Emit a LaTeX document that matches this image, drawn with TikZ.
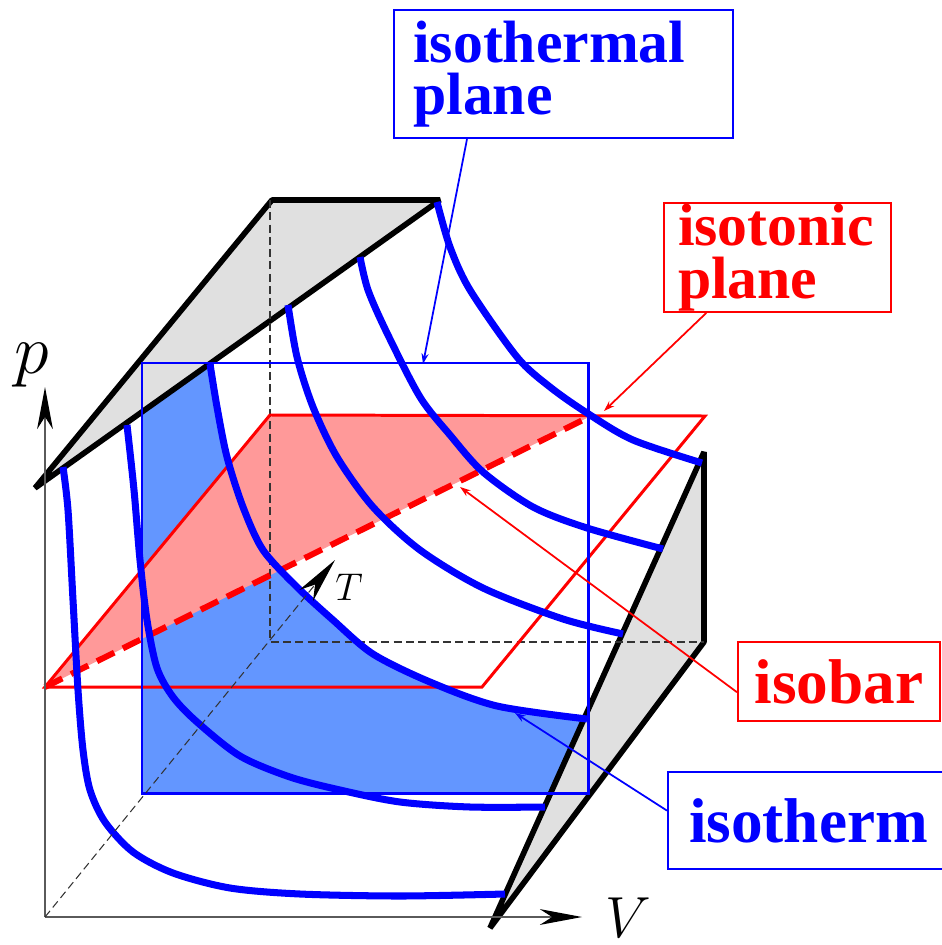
\documentclass[tikz,border=0pt]{standalone}
\usepackage{fix-cm}
\usepackage{fontspec}
\setmainfont{Liberation Serif}
\usetikzlibrary{arrows.meta}
\definecolor{ebeneblau}{RGB}{99,150,255}
\definecolor{ebenerot}{RGB}{255,153,153}
\definecolor{ebenegrau}{RGB}{224,224,224}
\definecolor{achsgrau}{RGB}{90,90,90}
\begin{document}
\begin{tikzpicture}[x=0.02cm, y=-0.02cm,
	kurve/.style={blue, line width=4pt},
	rand/.style={black, line width=3.2pt, line join=bevel, fill=ebenegrau},
	hilf/.style={black!80, line width=0.6pt, dash pattern=on 4.5pt off 2.5pt},
	achse/.style={achsgrau, line width=0.8pt, -{Stealth[length=24pt, width=9pt, inset=7pt, color=black]}},
	kasten/.style={draw, line width=1.1pt, inner sep=0pt, font=\bfseries\fontsize{34}{30}\selectfont},
	zeiger/.style={line width=1pt, -{Stealth[length=6pt, width=4pt]}},
	achsname/.style={inner sep=0pt}]
		\useasboundingbox (0,0) rectangle (941,945);
		
		%Punkte
		\coordinate (O) at (45,917);
		\coordinate (pspitze) at (45,387);
		\coordinate (vspitze) at (582,917);
		\coordinate (tspitze) at (335,560);
		\coordinate (hinten) at (270,642);
		
		%isotherme Ebene, Flaeche unter der Isotherme
		\fill[ebeneblau] (142,363) -- plot[smooth] coordinates {(210,364) (217,407) (227,457) (243,507) (263,550) (297,587) (333,620) (373,654) (430,682) (497,706) (587,719)} -- (588,793) -- (142,793) -- cycle;
		
		%isotone Ebene, Flaeche ueber der Isobare
		\fill[ebenerot] (45,687) -- (270,415) -- (593,415) -- cycle;
		
		%graue Flaechen
		\draw[rand] (35,488) -- (272,200) -- (440,200) -- cycle;
		\draw[rand] (490,928) -- (704,452) -- (704,642) -- cycle;
		
		%gestrichelte Kanten
		\draw[hilf] (270,200) -- (hinten) -- (704,642);
		
		%Rand der Ebenen
		\draw[red, line width=1.7pt] (45,687) -- (270,415) -- (705,416) -- (482,687) -- cycle;
		\draw[blue, line width=1.7pt] (142,363) rectangle (588,793);
		
		%Isobare
		\draw[red, line width=3.4pt, dash pattern=on 11pt off 5.5pt] (45,687) -- (593,415);
		
		%Isothermen
		\draw[kurve] plot[smooth] coordinates {(63,467) (68,510) (73,600) (78,690) (83,750) (90,790) (105,822) (133,852) (173,873) (230,888) (300,894) (400,896) (505,894)};
		\draw[kurve] plot[smooth] coordinates {(127,425) (134,490) (140,560) (147,620) (157,668) (173,697) (197,722) (240,756) (290,777) (340,790) (400,802) (470,807) (545,807)};
		\draw[kurve] plot[smooth] coordinates {(210,364) (217,407) (227,457) (243,507) (263,550) (297,587) (333,620) (373,654) (430,682) (497,706) (587,719)};
		\draw[kurve] plot[smooth] coordinates {(288,305) (297,357) (313,407) (337,457) (373,507) (420,550) (483,588) (563,619) (623,634)};
		\draw[kurve] plot[smooth] coordinates {(360,257) (368,290) (387,333) (420,397) (450,435) (483,472) (533,507) (587,528) (663,549)};
		\draw[kurve] plot[smooth] coordinates {(437,202) (450,247) (470,290) (517,357) (550,387) (587,413) (633,440) (702,463)};
		
		%Koordinatensystem
		\draw[achse] (O) -- (pspitze);
		\draw[achse] (O) -- (vspitze);
		\draw[hilf, -{Stealth[length=26pt, width=10pt, inset=8pt, color=black]}] (O) -- (tspitze);
		\node[achsname, font=\fontsize{40}{40}\selectfont] (plbl) at (32,365) {$p$};
		\node[achsname, font=\fontsize{33}{33}\selectfont] (vlbl) at (628,918) {$V$};
		\node[achsname, font=\fontsize{22}{22}\selectfont] (tlbl) at (349,587) {$T$};
		
		%Beschriftungen
		\node[kasten, blue, anchor=north west, text width=171pt, minimum height=73pt, align=left, inner xsep=11pt] (ebenebox) at (393,9) {isothermal\\plane};
		\node[kasten, red, anchor=north west, text width=113pt, minimum height=62pt, align=left, inner xsep=8pt] (tonbox) at (663,202) {isotonic\\plane};
		\node[kasten, red, font=\bfseries\fontsize{36}{36}\selectfont, minimum width=115pt, minimum height=45pt] (barbox) at (839,681.5) {isobar};
		\node[kasten, blue, font=\bfseries\fontsize{36}{36}\selectfont, minimum width=160pt, minimum height=55pt] (thermbox) at (808.5,820.5) {isotherm};
		
		%Zeiger
		\coordinate (ebenespitze) at (423,364);
		\coordinate (tonspitze) at (604,411);
		\coordinate (barspitze) at (460,487);
		\coordinate (thermspitze) at (515,713);
		\draw[zeiger, blue] (ebenebox.214) -- (ebenespitze);
		\draw[zeiger, red] (tonbox.218) -- (tonspitze);
		\draw[zeiger, red] (barbox.186) -- (barspitze);
		\draw[zeiger, blue] (thermbox.176) -- (thermspitze);
\end{tikzpicture}
\end{document}
